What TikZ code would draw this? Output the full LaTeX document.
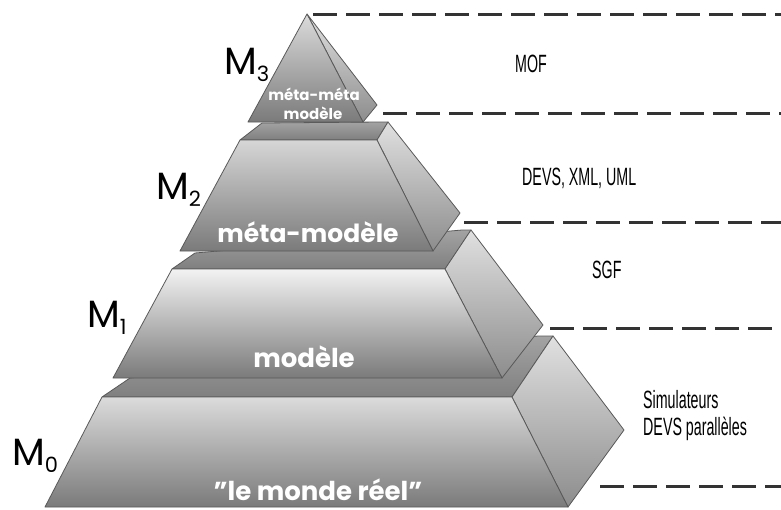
\documentclass[tikz,border=0pt]{standalone}
\usepackage{fontspec}
\setmainfont{Poppins}
\newfontfamily\narrowfont[FakeStretch=0.57]{Liberation Sans}
\newcommand\lvlsub[1]{\raisebox{-7pt}{\fontsize{21}{21}\selectfont #1}}
\begin{document}
\begin{tikzpicture}[x=1pt,y=-1pt,
 edge/.style={draw=black!65,line width=0.8pt,line join=round},
 front/.style={edge,top color=black!#1,bottom color=black!52},
 side/.style={edge,top color=black!12,bottom color=black!45},
 topface/.style={edge,top color=black!36,bottom color=black!50},
 level/.style={black!80,line width=3pt,dash pattern=on 24pt off 9pt},
 layer/.style={white,font=\bfseries\fontsize{#1}{#1}\selectfont,inner sep=0pt},
 mlabel/.style={anchor=base west,inner sep=0pt,font=\fontsize{38}{38}\selectfont},
 note/.style={anchor=base west,inner sep=0pt,font=\narrowfont\fontsize{25}{25}\selectfont}]
\useasboundingbox (0,0) rectangle (781,509);
\foreach \y/\x in {14/313, 113/383, 222/464, 328/550, 486/600}
 \draw[level] (\x,\y) -- (781,\y);
\shadedraw[topface] (102,397) -- (512,397) -- (553,336) -- (538,336) -- (130,378) -- cycle;
\shadedraw[side] (512,397) -- (553,336) -- (624,430) -- (568,507) -- cycle;
\shadedraw[front=14] (102,397) -- (512,397) -- (568,507) -- (45,507) -- cycle;
\shadedraw[topface] (172,269) -- (445,269) -- (471,230) -- (462,230) -- (195,253) -- cycle;
\shadedraw[side] (445,269) -- (471,230) -- (543,325) -- (502,378) -- cycle;
\shadedraw[front=5] (172,269) -- (445,269) -- (502,378) -- (113,378) -- cycle;
\shadedraw[topface] (240,140) -- (377,140) -- (388,122) -- (380,122) -- (262,123) -- cycle;
\shadedraw[side] (377,140) -- (388,122) -- (460,213) -- (433,251) -- cycle;
\shadedraw[front=16] (240,140) -- (377,140) -- (433,251) -- (180,251) -- cycle;
\shadedraw[side] (307,14) -- (377,105) -- (363,122) -- cycle;
\shadedraw[front=14] (307,14) -- (363,122) -- (248,122) -- cycle;
\node[layer=15] (mm3) at (314,94) {méta-méta};
\node[layer=15] (mod3) at (313,113) {modèle};
\node[layer=25] (mod2) at (308,232) {méta-modèle};
\node[layer=26] (mod1) at (304,357) {modèle};
\node[layer=26] (mod0) at (318,490) {"le monde réel"};
\node[mlabel] (m3) at (224,74) {M\lvlsub{3}};
\node[mlabel] (m2) at (156,199) {M\lvlsub{2}};
\node[mlabel] (m1) at (87,327) {M\lvlsub{1}};
\node[mlabel] (m0) at (12,465) {M\lvlsub{0}};
\node[note] (mof) at (515,72) {MOF};
\node[note] (lang) at (522,185) {DEVS, XML, UML};
\node[note] (sgf) at (592,278) {SGF};
\node[note] (sim) at (643,408) {Simulateurs};
\node[note] (par) at (643,435) {DEVS parallèles};
\end{tikzpicture}
\end{document}
